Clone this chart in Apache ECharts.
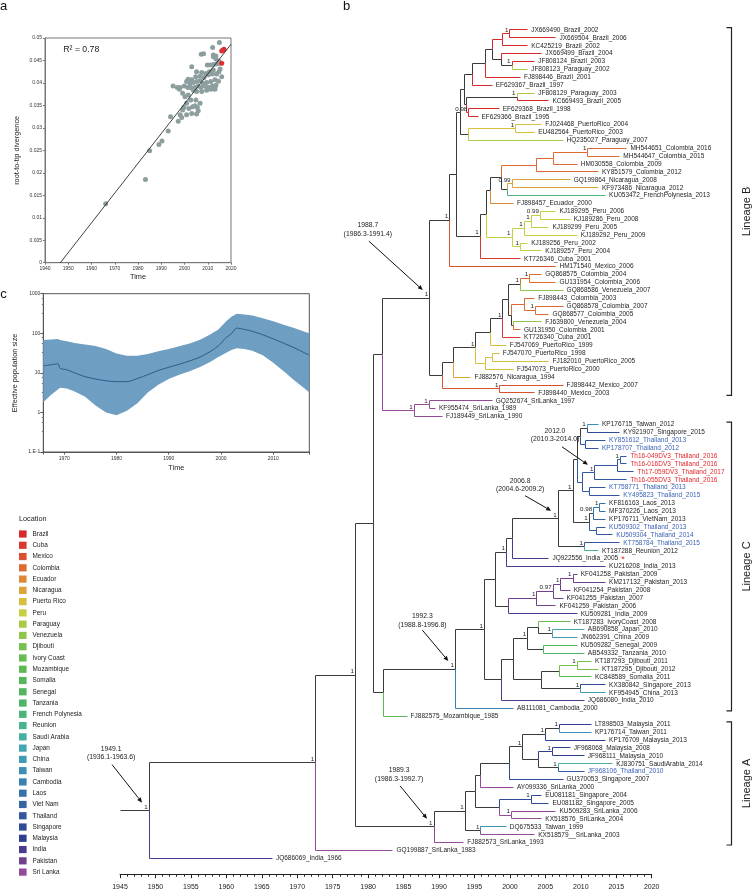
<!DOCTYPE html>
<html>
<head>
<meta charset="utf-8">
<title>DENV phylogeny figure</title>
<script src="https://cdn.jsdelivr.net/npm/echarts@6/dist/echarts.min.js"></script>
<style>
html,body{margin:0;padding:0;background:#fff;}
#chart{width:755px;height:891px;}
</style>
</head>
<body>
<div id="chart"></div>
<script>
// ================= DATA =================
// Panel a: root-to-tip divergence vs sampling time
const rttYears = [2015.0,2012.1,2007.2,2008.2,2012.4,2013.5,2012.4,2013.5,2014.7,
  2009.8,2011.0,2012.4,2013.8,2015.0,2003.1,
  2015.3,2012.4,2010.7,2009.2,2007.4,2005.2,2004.8,2006.7,2008.4,2010.3,2012.0,2013.8,2016.0,2014.8,
  2003.1,2001.6,2000.9,2002.4,2003.8,2005.2,2006.7,2008.1,2009.5,2011.3,2013.1,2014.6,2013.5,2012.0,2010.3,2008.8,2007.1,2005.9,2004.5,2002.7,2001.4,1999.9,1998.1,
  1995.1,1996.9,1997.8,
  1999.2,2000.2,2001.6,2003.8,2005.2,2007.4,2009.5,2011.3,2013.1,2013.1,
  2002.7,2004.9,2000.9,2003.5,2005.5,2006.7,1999.8,1999.2,2001.9,2004.5,2005.9,2005.2,2003.1,2000.9,
  1998.1,1998.8,1997.3,1994.0,
  1993.0,1990.3,1989.0,1985.0,1983.2,1966.1];
const rttDivergence = [0.0490,0.0479,0.0464,0.0465,0.0462,0.0460,0.0458,0.0453,0.0449,
  0.0440,0.0440,0.0441,0.0442,0.0444,0.0436,
  0.0431,0.0429,0.0425,0.0421,0.0423,0.0425,0.0414,0.0415,0.0412,0.0418,0.0420,0.0420,0.0414,0.0425,
  0.0407,0.0408,0.0403,0.0399,0.0401,0.0403,0.0405,0.0399,0.0401,0.0403,0.0407,0.0404,0.0395,0.0393,0.0390,0.0393,0.0390,0.0393,0.0390,0.0390,0.0390,0.0393,0.0390,
  0.0393,0.0390,0.0386,
  0.0377,0.0369,0.0373,0.0384,0.0381,0.0381,0.0384,0.0386,0.0390,0.0386,
  0.0362,0.0362,0.0355,0.0347,0.0346,0.0355,0.0346,0.0340,0.0343,0.0349,0.0338,0.0331,0.0332,0.0329,
  0.0329,0.0323,0.0315,0.0325,
  0.0293,0.0271,0.0263,0.0249,0.0185,0.0131];
const rttNewYears = [2016.4,2017.0,2016.0,2016.0];
const rttNewDivergence = [0.0473,0.0475,0.0471,0.0444];
const rttFitYears = [1946.6,2020];
const rttFitDivergence = [0,0.0486];
const rttR2Text = 'R\u00b2 = 0.78';

// Panel c: Bayesian skyline (effective population size)
const skyYears  = [1966,1967.5,1968.8,1969.2,1970.5,1972,1974,1976,1978,1980,1982,1984,1986,1988,1990,1992,1994,1996,1998,1999.5,2001,2002,2003,2004.5,2006,2008,2010,2012,2014,2016,2016.9];
const skyMedian = [15,16,17,13,12,10,8,7,6.3,6.0,6.0,7.2,9.0,11.5,13.8,16.5,20,25,35,48,78,98,135,125,112,92,72,56,43,32,28];
const skyUpper  = [68,70,72,68,63,57,52,48,40,31,27,27,30,35,40,47,55,69,95,125,200,260,310,300,280,240,200,165,135,110,100];
const skyLower  = [1.8,2.8,3.8,4.2,4.0,3.4,2.5,1.5,1.0,0.85,1.1,1.7,3.2,5.0,7.0,9.0,11,14,19,25,32,38,42,40,36,28,18,11,6.5,4,3.2];
const skyYTickLabels = ['1.E-1','1','10','100','1000'];

// Locations (legend)
const locationNames = ['Brazil','Cuba','Mexico','Colombia','Ecuador','Nicaragua','Puerto Rico','Peru','Paraguay','Venezuela','Djibouti','Ivory Coast','Mozambique','Somalia','Senegal','Tanzania','French Polynesia','Reunion','Saudi Arabia','Japan','China','Taiwan','Cambodia','Laos','Viet Nam','Thailand','Singapore','Malaysia','India','Pakistan','Sri Lanka'];
const locationColors = ['#d7282b','#d6392d','#da512e','#dd6b30','#df8834','#dca338','#d6bf3c','#c6cf40','#a9ca45','#8fc54a','#78c04e','#68bc51','#5cb954','#55b757','#51b65e','#4eb569','#4bb47a','#49b290','#46aea3','#43a6b1','#409cb6','#3d8fb5','#3a81b1','#3773ab','#3465a5','#31589e','#2f4b96','#2e3f8d','#4b3a8d','#70408f','#924b98'];

// Panel b: time-scaled tree, clades in Newick form (internal node: support:date, tip date = sampling year)
const cladeBrazil = "((((((JX669490_Brazil_2002,JX669504_Brazil_2006)1:2000.0,KC425219_Brazil_2002):1998.9,(JX669499_Brazil_2004,(JF808124_Brazil_2003,JF808123_Paraguay_2002)1:2000.3):1998.8):1997.6,FJ898446_Brazil_2001):1996.5,EF629367_Brazil_1997):1994.7,((JF808129_Paraguay_2003,KC669493_Brazil_2005)1:2001.0,(EF629368_Brazil_1998,EF629366_Brazil_1995)0.98:1994.2):1993.9):1993.6";
const cladePuertoRicoA = "((FJ024468_PuertoRico_2004,EU482564_PuertoRico_2003)1:2000.8,HQ235027_Paraguay_2007):1994.1";
const cladeColombiaA = "(((MH544651_Colombia_2016,MH544647_Colombia_2015)1:2011.0,HM030558_Colombia_2009):2006.2,KY851579_Colombia_2012):2003.8";
const cladeNicaragua = "((GQ199864_Nicaragua_2008,KF973486_Nicaragua_2012)0.99:2000.3,KU053472_FrenchPolynesia_2013):1999.6";
const cladePeru = "((((KJ189295_Peru_2006,KJ189286_Peru_2008)0.99:2004.3,KJ189299_Peru_2005)1:2003.0,KJ189292_Peru_2009)1:2002.0,(KJ189256_Peru_2002,KJ189257_Peru_2004)1:2001.5)1:2000.3";
const cladeColVen = "(((GQ868575_Colombia_2004,GU131954_Colombia_2006)1:2002.8,GQ868586_Venezuela_2007)1:2001.5,((FJ898443_Colombia_2003,(GQ868578_Colombia_2007,GQ868577_Colombia_2005)1:2003.6):2002.0,(FJ639800_Venezuela_2004,GU131950_Colombia_2001):2000.5):2000.2):1999.8";
const cladePuertoRicoB = "((FJ547070_PuertoRico_1998,FJ182010_PuertoRico_2005):1997.6,FJ547073_PuertoRico_2000):1996.5";
const cladeSriLankaB = "((GQ252674_SriLanka_1997,KF955474_SriLanka_1989)1:1988.6,FJ189449_SriLanka_1990)1:1986.5";
const cladeAsiaTop = "((KP176715_Taiwan_2012,KY921907_Singapore_2015)1:2010.9,(KY851612_Thailand_2013,KP178707_Thailand_2012):2010.6):2009.9";
const cladeThaiNew = "(((Th16-049DV3_Thailand_2016,Th16-016DV3_Thailand_2016)1:2015.6,Th17-059DV3_Thailand_2017):2015.2,Th16-055DV3_Thailand_2016)1:2012.0";
const cladeMekong = "(((KF816163_Laos_2013,MF370226_Laos_2013)1:2012.7,KP176711_VietNam_2013)0.98:2011.8,(KU509302_Thailand_2013,KU509304_Thailand_2014):2012.2)1:2011.2";
const cladePakistan = "(((((KF041258_Pakistan_2009,KM217132_Pakistan_2013)1:2008.9,KF041254_Pakistan_2008)1:2007.2,KF041255_Pakistan_2007)0.97:2006.1,KF041259_Pakistan_2006)1:2003.8,KU509281_India_2009):1999.8";
const cladeAfricaAsiaA = "((KT187283_IvoryCoast_2008,(AB690858_Japan_2010,JN662391_China_2009)1:2006.0):2004.0,(KU509282_Senegal_2009,AB549332_Tanzania_2010):2004.8)1:2002.5";
const cladeAfricaAsiaB = "(((KT187293_Djibouti_2011,KT187295_Djibouti_2012)1:2009.5,KC848589_Somalia_2011):2007.0,(KX380842_Singapore_2013,KF954945_China_2013)1:2010.0):2004.5";
const cladeMalaysia = "(((LT898503_Malaysia_2011,KP176714_Taiwan_2011)1:2007.0,KP176709_Malaysia_2013)1:2005.0,((JF968068_Malaysia_2008,JF968111_Malaysia_2010)1:2006.0,(KJ830751_SaudiArabia_2014,JF968106_Thailand_2010)1:2006.8):2004.0)1:2001.8";
const cladeSingapore = "((EU081181_Singapore_2004,EU081182_Singapore_2005)1:2003.0,(KU509283_SriLanka_2006,KX518576_SriLanka_2004)1:2000.2):1998.5";

const lineageB = "((((" + cladeBrazil + "," + cladePuertoRicoA + "):1993.1,((((" + cladeColombiaA + "," + cladeNicaragua + "):1998.8,FJ898457_Ecuador_2000):1997.2," + cladePeru + "):1996.7,KT726346_Cuba_2001)1:1995.8):1992.5,HM171540_Mexico_2006)1:1991.5," +
  "(((((" + cladeColVen + ",KT726340_Cuba_2001)1:1999.0,FJ547069_PuertoRico_1999):1997.2," + cladePuertoRicoB + ")1:1995.2,FJ882576_Nicaragua_1994):1992.0,(FJ898442_Mexico_2007,FJ898440_Mexico_2003)1:1998.6):1990.5)1:1988.7";
const lineageC = "((((((((" + cladeAsiaTop + ",(" + cladeThaiNew + ",(KT758771_Thailand_2013,KY495823_Thailand_2015):2011.2):2010.3):2009.5," + cladeMekong + ")1:2008.9,(KT758784_Thailand_2015,KT187288_Reunion_2012)1:2010.5)1:2006.8,JQ922556_India_2005):2000.4,KU216208_India_2013)1:1999.5," + cladePakistan + "):1998.0," +
  "((" + cladeAfricaAsiaA + "," + cladeAfricaAsiaB + "):2000.5,JQ686080_India_2010):1998.8)1:1996.4,AB111081_Cambodia_2000)1:1992.3";
const lineageA = "(((((" + cladeMalaysia + ",GU370053_Singapore_2007):2000.0,AY099336_SriLanka_2000):1995.8," + cladeSingapore + "):1995.1,(DQ675533_Taiwan_1999,KX518579__SriLanka_2003)1:1995.9)1:1993.7,FJ882573_SriLanka_1993)1:1989.3";
const treeNewick = "(((((" + lineageB + "," + cladeSriLankaB + "):1982.0,(" + lineageC + ",FJ882575_Mozambique_1985):1982.1):1980.8," + lineageA + ")1:1978.2,GQ199887_SriLanka_1983)1:1972.6,JQ686069_India_1966)1:1949.1";

const treeAxisMin = 1945, treeAxisMax = 2020;
const newSequences = ['Th16-049DV3_Thailand_2016','Th16-016DV3_Thailand_2016','Th17-059DV3_Thailand_2017','Th16-055DV3_Thailand_2016'];
const starredLeaves = ['JQ922556_India_2005'];
const annotationDates  = [1988.7, 2012.0, 2006.8, 1992.3, 1989.3, 1949.1];
const annotationMedian = ['1988.7','2012.0','2006.8','1992.3','1989.3','1949.1'];
const annotationHPD    = ['(1986.3-1991.4)','(2010.3-2014.0)','(2004.6-2009.2)','(1988.8-1996.8)','(1986.3-1992.7)','(1936.1-1963.6)'];
const lineageNames = ['Lineage B','Lineage C','Lineage A'];
const lineageFirst = ['JX669490_Brazil_2002','KP176715_Taiwan_2012','LT898503_Malaysia_2011'];
const lineageLast  = ['FJ898440_Mexico_2003','AB111081_Cambodia_2000','FJ882573_SriLanka_1993'];

// ================= STYLE / LAYOUT =================
const FONT = '"Liberation Sans", Arial, Helvetica, sans-serif';
const DARK = '#3a3a3a';
const annLayout = [ // offsets (px) relative to node: text centre, arrow start
  {tx:-62, ty:-73, ax:-61, ay:-57},
  {tx:-40, ty:-42, ax:-33, ay:-26},
  {tx:-38, ty:-38, ax:-33, ay:-23},
  {tx:-33, ty:-53, ax:-33, ay:-39},
  {tx:-35, ty:-57, ax:-34, ay:-41},
  {tx:-38, ty:-62, ax:-37, ay:-46}
];

// ================= TREE PARSING =================
function parseNewick(str) {
  const s = str.replace(/\s+/g, '');
  let i = 0;
  function readUntil(stops) { let o = ''; while (i < s.length && stops.indexOf(s[i]) < 0) o += s[i++]; return o; }
  function node() {
    const n = { children: [] };
    if (s[i] === '(') {
      i++;
      n.children.push(node());
      while (s[i] === ',') { i++; n.children.push(node()); }
      i++;
    }
    const label = readUntil(':,)');
    let t = null;
    if (s[i] === ':') { i++; t = parseFloat(readUntil(',)')); }
    if (n.children.length) { n.support = label; n.time = t; }
    else { n.name = label; n.time = (t !== null) ? t : Number(label.split('_').pop()) + 0.5; }
    return n;
  }
  return node();
}
function locationOf(name) {
  const parts = name.split('_').filter(Boolean);
  return parts[1].replace(/([a-z])([A-Z])/g, '$1 $2');
}
const treeRoot = parseNewick(treeNewick);
const treeLeaves = [], treeNodes = [];
(function walk(n, parent) {
  n.parent = parent; treeNodes.push(n);
  if (!n.children.length) {
    n.y = treeLeaves.length; treeLeaves.push(n);
    n.loc = locationOf(n.name); n.locs = new Set([n.loc]);
  } else {
    n.children.forEach(c => walk(c, n));
    n.y = (n.children[0].y + n.children[n.children.length - 1].y) / 2;
    n.locs = new Set(); n.children.forEach(c => c.locs.forEach(l => n.locs.add(l)));
    n.loc = n.locs.size === 1 ? [...n.locs][0] : null;
  }
})(treeRoot, null);
const locIdx = loc => (loc ? locationNames.indexOf(loc) : -1);
const colorOf = k => (k >= 0 ? locationColors[k] : DARK);

const branchData = [[treeAxisMin, treeRoot.y, treeRoot.time, treeRoot.y, -1]];
treeNodes.forEach(n => { if (n.parent) branchData.push([n.parent.time, n.parent.y, n.time, n.y, locIdx(n.loc)]); });
const leafLabelData = treeLeaves.map((l, k) => [l.time, l.y, k]);
const supportNodes = treeNodes.filter(n => n.children.length && n.support);
const supportData = supportNodes.map((n, k) => [n.time, n.y, k]);
const annotationData = annotationDates.map(d => {
  const n = treeNodes.find(m => m.children.length && Math.abs(m.time - d) < 1e-6) || treeRoot;
  return [n.time, n.y];
});
const leafIndexOf = name => treeLeaves.findIndex(l => l.name === name);
const lineageData = lineageNames.map((nm, k) => [leafIndexOf(lineageFirst[k]) - 0.3, leafIndexOf(lineageLast[k]) + 0.3]);

const mctx = document.createElement('canvas').getContext('2d');
const LEAF_FS = 6.5;
mctx.font = LEAF_FS + 'px "Liberation Sans", Arial';

const crisp = v => Math.round(v - 0.5) + 0.5;
const plain = v => String(v);

// ================= CHART =================
const chart = echarts.init(document.getElementById('chart'), null, { renderer: 'canvas' });

const legendGraphics = [{ type: 'text', x: 19, y: 518.7, style: { text: 'Location', fontSize: 7.3, fontFamily: FONT, fill: '#222', align: 'left', verticalAlign: 'middle' } }];
locationNames.forEach((nm, k) => {
  const y = 534 + k * 11.27;
  legendGraphics.push({ type: 'rect', shape: { x: 19, y: y - 3.6, width: 7.6, height: 7.2 }, style: { fill: locationColors[k] } });
  legendGraphics.push({ type: 'text', x: 32.5, y: y, style: { text: nm, fontSize: 6.4, fontFamily: FONT, fill: '#222', align: 'left', verticalAlign: 'middle' } });
});

const panelLabel = (t, x, y) => ({ type: 'text', x: x, y: y, style: { text: t, fontSize: 13, fontFamily: FONT, fill: '#111', align: 'center', verticalAlign: 'bottom' } });

const option = {
  animation: false,
  textStyle: { fontFamily: FONT },
  graphic: [
    panelLabel('a', 3.5, 13.4),
    panelLabel('b', 346.5, 12.8),
    panelLabel('c', 3.5, 301),
    { type: 'text', x: 63.3, y: 54.6, style: { text: rttR2Text, fontSize: 8.7, fontFamily: FONT, fill: '#222', align: 'left', verticalAlign: 'bottom' } }
  ].concat(legendGraphics),
  grid: [
    { left: 45, top: 38, width: 186, height: 224.7, show: true, borderColor: '#777', borderWidth: 1, outerBoundsMode: 'none', containLabel: false },
    { left: 43.3, top: 293.7, width: 266, height: 158.3, show: true, borderColor: '#555', borderWidth: 1, outerBoundsMode: 'none', containLabel: false },
    { left: 120, top: 14.2, width: 531.7, height: 860, outerBoundsMode: 'none', containLabel: false }
  ],
  xAxis: [
    { gridIndex: 0, type: 'value', min: 1940, max: 2020, interval: 10,
      axisLine: { onZero: false, lineStyle: { color: '#777' } }, axisTick: { length: 2, lineStyle: { color: '#777' } },
      axisLabel: { fontSize: 5, color: '#333', margin: 3, formatter: plain }, splitLine: { show: false },
      name: 'Time', nameLocation: 'middle', nameGap: 10.5, nameTextStyle: { fontSize: 7.3, color: '#222' } },
    { gridIndex: 1, type: 'value', min: 1966, max: 2016.9,
      axisLine: { onZero: false, lineStyle: { color: '#555' } }, axisTick: { length: 2.5, lineStyle: { color: '#555' } },
      axisLabel: { fontSize: 5, color: '#333', margin: 4, formatter: v => (v % 10 === 0 ? String(v) : '') }, splitLine: { show: false },
      name: 'Time', nameLocation: 'middle', nameGap: 12, nameTextStyle: { fontSize: 7.3, color: '#222' } },
    { gridIndex: 2, type: 'value', min: treeAxisMin, max: treeAxisMax, interval: 5, position: 'bottom',
      axisLine: { onZero: false, lineStyle: { color: '#222', width: 1 } }, axisTick: { length: 4, lineStyle: { color: '#222' } },
      minorTick: { show: true, splitNumber: 5, length: 2.5, lineStyle: { color: '#222' } },
      axisLabel: { fontSize: 7, color: '#222', margin: 9, formatter: plain }, splitLine: { show: false }, minorSplitLine: { show: false } }
  ],
  yAxis: [
    { gridIndex: 0, type: 'value', min: 0, max: 0.05, interval: 0.005,
      axisLine: { show: true, onZero: false, lineStyle: { color: '#777' } }, axisTick: { show: true, length: 2, lineStyle: { color: '#777' } },
      axisLabel: { fontSize: 5, color: '#333', margin: 3 }, splitLine: { show: false },
      name: 'root-to-tip divergence', nameLocation: 'middle', nameGap: 24.5, nameRotate: 90, nameTextStyle: { fontSize: 7.3, color: '#222' } },
    { gridIndex: 1, type: 'log', logBase: 10, min: 0.1, max: 1000,
      axisLine: { show: true, onZero: false, lineStyle: { color: '#555' } }, axisTick: { show: true, length: 3, lineStyle: { color: '#555' } },
      minorTick: { show: true, splitNumber: 4, length: 1.5, lineStyle: { color: '#777' } },
      axisLabel: { fontSize: 5, color: '#333', margin: 3, formatter: v => skyYTickLabels[Math.round(Math.log10(v)) + 1] }, splitLine: { show: false }, minorSplitLine: { show: false },
      name: 'Effective population size', nameLocation: 'middle', nameGap: 24.5, nameRotate: 90, nameTextStyle: { fontSize: 7.3, color: '#222' } },
    { gridIndex: 2, type: 'value', min: -2, max: 107, inverse: true, show: false }
  ],
  series: [
    { type: 'scatter', xAxisIndex: 0, yAxisIndex: 0, symbolSize: 5, silent: true,
      itemStyle: { color: '#8d9e9f', opacity: 1 }, data: rttYears.map((y, k) => [y, rttDivergence[k]]) },
    { type: 'scatter', xAxisIndex: 0, yAxisIndex: 0, symbolSize: 5, silent: true,
      itemStyle: { color: '#dd3030', opacity: 1 }, data: rttNewYears.map((y, k) => [y, rttNewDivergence[k]]) },
    { type: 'line', xAxisIndex: 0, yAxisIndex: 0, showSymbol: false, silent: true,
      lineStyle: { color: '#111', width: 0.8 }, data: rttFitYears.map((y, k) => [y, rttFitDivergence[k]]), z: 4 },
    { type: 'custom', xAxisIndex: 1, yAxisIndex: 1, silent: true, clip: true, z: 2, data: [[skyYears[0], skyMedian[0]]],
      renderItem: (params, api) => {
        const pts = [];
        for (let k = 0; k < skyYears.length; k++) pts.push(api.coord([skyYears[k], skyUpper[k]]));
        for (let k = skyYears.length - 1; k >= 0; k--) pts.push(api.coord([skyYears[k], skyLower[k]]));
        return { type: 'polygon', shape: { points: pts }, style: { fill: '#6f9ec3' } };
      } },
    { type: 'line', xAxisIndex: 1, yAxisIndex: 1, showSymbol: false, silent: true, smooth: 0.3, z: 3,
      lineStyle: { color: '#2b5d8c', width: 1 }, data: skyYears.map((y, k) => [y, skyMedian[k]]) },
    // tree branches
    { type: 'custom', xAxisIndex: 2, yAxisIndex: 2, silent: true, clip: false, data: branchData,
      renderItem: (params, api) => {
        const a = api.coord([api.value(0), api.value(1)]);
        const b = api.coord([api.value(2), api.value(3)]);
        const px = crisp(a[0]), py = crisp(a[1]), cx = crisp(b[0]), cy = crisp(b[1]);
        return { type: 'polyline', shape: { points: [[px, py], [px, cy], [cx, cy]] },
          style: { stroke: colorOf(api.value(4)), lineWidth: 1, fill: null } };
      } },
    // tip labels
    { type: 'custom', xAxisIndex: 2, yAxisIndex: 2, silent: true, clip: false, data: leafLabelData,
      renderItem: (params, api) => {
        const p = api.coord([api.value(0), api.value(1)]);
        const leaf = treeLeaves[api.value(2)];
        const col = newSequences.indexOf(leaf.name) >= 0 ? '#e3262b' : (leaf.loc === 'Thailand' ? '#3b63b7' : '#1e1e1e');
        const children = [{ type: 'text', x: p[0] + 3.5, y: p[1], style: { text: leaf.name, fontSize: LEAF_FS, fontFamily: FONT, fill: col, align: 'left', verticalAlign: 'middle' } }];
        if (starredLeaves.indexOf(leaf.name) >= 0) {
          const w = mctx.measureText(leaf.name).width;
          children.push({ type: 'text', x: p[0] + 3.5 + w + 3, y: p[1] + 1.2, style: { text: '*', fontSize: 9, fontFamily: FONT, fill: '#e3262b', align: 'left', verticalAlign: 'middle' } });
        }
        return { type: 'group', children: children };
      } },
    // posterior support
    { type: 'custom', xAxisIndex: 2, yAxisIndex: 2, silent: true, clip: false, data: supportData,
      renderItem: (params, api) => {
        const p = api.coord([api.value(0), api.value(1)]);
        const n = supportNodes[api.value(2)];
        return { type: 'text', x: p[0] - 1.5, y: p[1] - 0.8, style: { text: n.support, fontSize: 6.2, fontFamily: FONT, fill: '#222', align: 'right', verticalAlign: 'bottom' } };
      } },
    // dated node annotations
    { type: 'custom', xAxisIndex: 2, yAxisIndex: 2, silent: true, clip: false, data: annotationData,
      renderItem: (params, api) => {
        const k = params.dataIndex, L = annLayout[k];
        const p = api.coord([api.value(0), api.value(1)]);
        const sx = p[0] + L.ax, sy = p[1] + L.ay, ex = p[0] - 7, ey = p[1] - 8;
        const ang = Math.atan2(ey - sy, ex - sx), hl = 5, hw = 2.2;
        const bx = ex - hl * Math.cos(ang), by = ey - hl * Math.sin(ang);
        const head = [[ex, ey], [bx + hw * Math.sin(ang), by - hw * Math.cos(ang)], [bx - hw * Math.sin(ang), by + hw * Math.cos(ang)]];
        const ts = t => ({ text: t, fontSize: 6.8, fontFamily: FONT, fill: '#222', align: 'center', verticalAlign: 'middle' });
        return { type: 'group', children: [
          { type: 'text', x: p[0] + L.tx, y: p[1] + L.ty, style: ts(annotationMedian[k]) },
          { type: 'text', x: p[0] + L.tx, y: p[1] + L.ty + 8.8, style: ts(annotationHPD[k]) },
          { type: 'line', shape: { x1: sx, y1: sy, x2: bx, y2: by }, style: { stroke: '#111', lineWidth: 1 } },
          { type: 'polygon', shape: { points: head }, style: { fill: '#111' } }
        ] };
      } },
    // lineage brackets
    { type: 'custom', xAxisIndex: 2, yAxisIndex: 2, silent: true, clip: false, data: lineageData,
      renderItem: (params, api) => {
        const y1 = api.coord([treeAxisMax, api.value(0)])[1];
        const y2 = api.coord([treeAxisMax, api.value(1)])[1];
        const bx = 731.5;
        return { type: 'group', children: [
          { type: 'polyline', shape: { points: [[bx - 5, y1], [bx, y1], [bx, y2], [bx - 5, y2]] }, style: { stroke: '#222', lineWidth: 1.2, fill: null } },
          { type: 'text', x: 747, y: (y1 + y2) / 2, rotation: Math.PI / 2,
            style: { text: lineageNames[params.dataIndex], fontSize: 11, fontFamily: FONT, fill: '#222', align: 'center', verticalAlign: 'middle' } }
        ] };
      } }
  ]
};
chart.setOption(option);
</script>
</body>
</html>
